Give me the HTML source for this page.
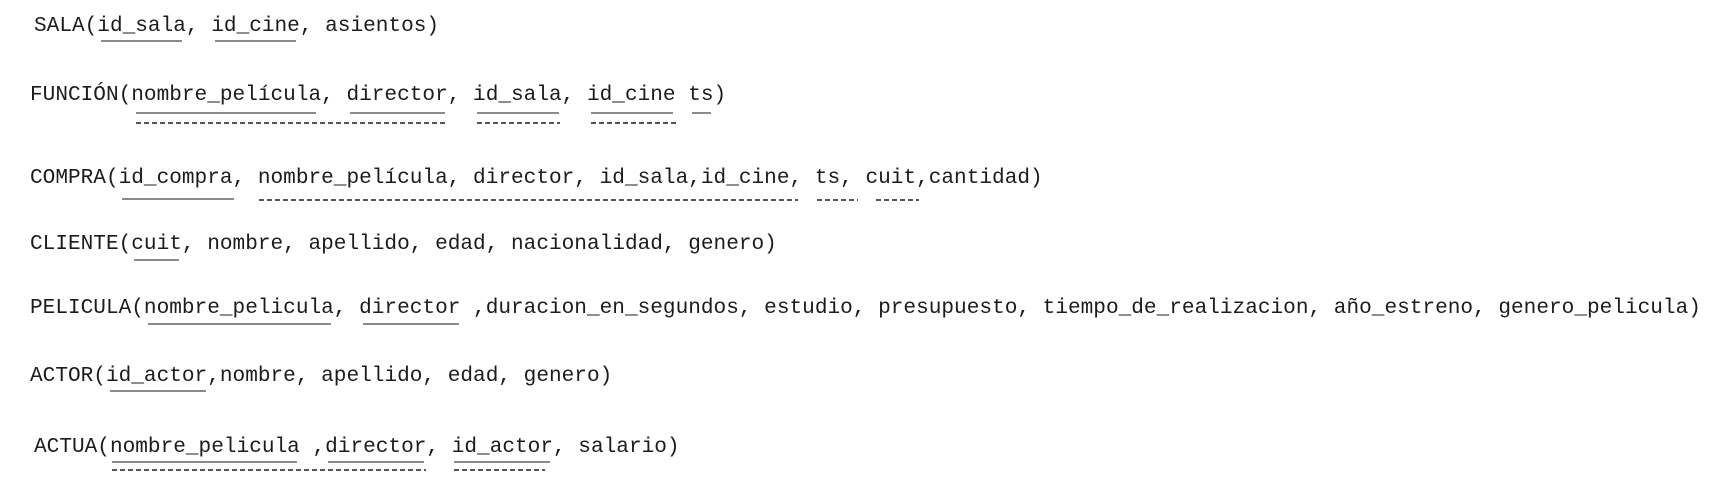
<!DOCTYPE html>
<html><head><meta charset="utf-8"><style>
html,body{margin:0;padding:0;background:#fff;}
body{width:1734px;height:485px;position:relative;overflow:hidden;}
.l{position:absolute;font-family:"Liberation Mono",monospace;font-size:21.1px;line-height:24px;height:24px;color:#1c1c1c;white-space:pre;}
.u{position:absolute;height:2px;background:#8a8a8a;}
.d{position:absolute;height:2px;background:repeating-linear-gradient(90deg,#555 0 5px,transparent 5px 8px);}
</style></head><body>

<div class="l" style="left:34px;top:14px;">SALA(id_sala, id_cine, asientos)
<div class="u" style="left:5.3ch;width:6.4ch;top:26px"></div>
<div class="u" style="left:14.3ch;width:6.4ch;top:26px"></div>
</div>

<div class="l" style="left:30px;top:83px;">FUNCIÓN(nombre_película, director, id_sala, id_cine ts)
<div class="u" style="left:8.4ch;width:14.2ch;top:29px"></div>
<div class="u" style="left:25.3ch;width:7.5ch;top:29px"></div>
<div class="u" style="left:35.3ch;width:6.5ch;top:29px"></div>
<div class="u" style="left:44.3ch;width:6.5ch;top:29px"></div>
<div class="u" style="left:52.3ch;width:1.5ch;top:29px"></div>
<div class="d" style="left:8.4ch;width:24.6ch;top:39px"></div>
<div class="d" style="left:35.3ch;width:6.6ch;top:39px"></div>
<div class="d" style="left:44.3ch;width:6.7ch;top:39px"></div>
</div>

<div class="l" style="left:30px;top:166px;">COMPRA(id_compra, nombre_película, director, id_sala,id_cine, ts, cuit,cantidad)
<div class="u" style="left:7.3ch;width:8.8ch;top:32px"></div>
<div class="d" style="left:18.1ch;width:42.6ch;top:33px"></div>
<div class="d" style="left:62.2ch;width:3.2ch;top:33px"></div>
<div class="d" style="left:66.8ch;width:3.4ch;top:33px"></div>
</div>

<div class="l" style="left:30px;top:232px;">CLIENTE(cuit, nombre, apellido, edad, nacionalidad, genero)
<div class="u" style="left:8.2ch;width:3.6ch;top:27px"></div>
</div>

<div class="l" style="left:30px;top:296px;">PELICULA(nombre_pelicula, director ,duracion_en_segundos, estudio, presupuesto, tiempo_de_realizacion, año_estreno, genero_pelicula)
<div class="u" style="left:9.3ch;width:14.5ch;top:27px"></div>
<div class="u" style="left:26.3ch;width:7.6ch;top:27px"></div>
</div>

<div class="l" style="left:30px;top:364px;">ACTOR(id_actor,nombre, apellido, edad, genero)
<div class="u" style="left:6.3ch;width:7.6ch;top:26px"></div>
</div>

<div class="l" style="left:34px;top:435px;">ACTUA(nombre_pelicula ,director, id_actor, salario)
<div class="u" style="left:6.2ch;width:14.6ch;top:26px"></div>
<div class="u" style="left:23.2ch;width:7.6ch;top:26px"></div>
<div class="u" style="left:33.2ch;width:7.6ch;top:26px"></div>
<div class="d" style="left:6.2ch;width:24.8ch;top:34px"></div>
<div class="d" style="left:33.2ch;width:7.2ch;top:34px"></div>
</div>

</body></html>
